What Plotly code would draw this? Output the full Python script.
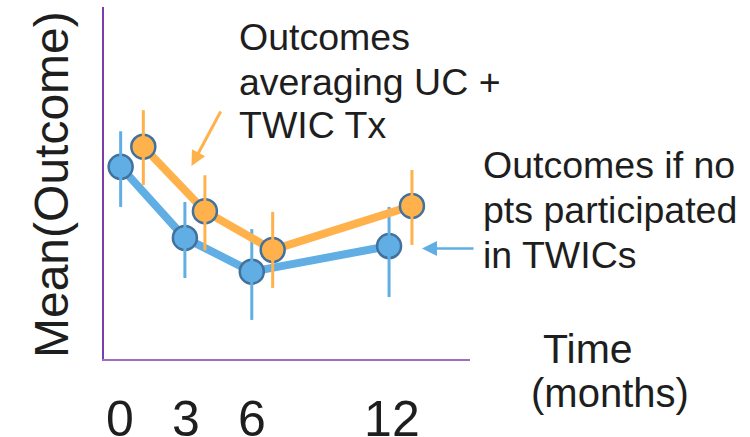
import plotly.graph_objects as go

# ---- data ----
tick_positions = [0, 3, 6, 12.36]
tick_labels = ["0", "3", "6", "12"]

# Usual care only ("Outcomes if no pts participated in TWICs")
uc_x = [0.03, 2.95, 5.99, 12.23]
uc_mean = [5.46, 3.44, 2.48, 3.21]
uc_err_plus = [1.01, 1.02, 1.21, 1.11]
uc_err_minus = [1.14, 1.14, 1.37, 1.45]

# Averaging UC + TWIC Tx
twic_x = [1.06, 3.86, 6.94, 13.27]
twic_mean = [6.03, 4.20, 3.10, 4.35]
twic_err_plus = [1.04, 1.02, 1.08, 1.02]
twic_err_minus = [1.09, 1.11, 1.08, 1.11]

# ---- styling ----
BLUE = "#60AEE4"
ORANGE = "#FFB24C"
EDGE = "#41719C"
FONT = "Liberation Sans, Arial, sans-serif"
TXT = "#1e1e1e"

L, R, T, B = 104, 280, 7, 78
W, H = 750, 437
PW, PH = W - L - R, H - T - B


def px(xp):
    return (xp - L) / PW


def py(yp):
    return (H - B - yp) / PH


fig = go.Figure()


def add_series(x, y, ep, em, color):
    fig.add_trace(go.Scatter(
        x=x, y=y, mode="lines+markers",
        line=dict(color=color, width=8),
        marker=dict(size=24, color=color, line=dict(color=EDGE, width=2.5)),
        showlegend=False, hoverinfo="skip", cliponaxis=False))
    fig.add_trace(go.Scatter(
        x=x, y=y, mode="markers",
        marker=dict(size=1, color="rgba(0,0,0,0)"),
        error_y=dict(type="data", symmetric=False, array=ep, arrayminus=em,
                     color=color, thickness=3, width=0),
        showlegend=False, hoverinfo="skip", cliponaxis=False))


add_series(uc_x, uc_mean, uc_err_plus, uc_err_minus, BLUE)
add_series(twic_x, twic_mean, twic_err_plus, twic_err_minus, ORANGE)

annotations = []


def text(s, xp, yp, size, anchor="left", angle=0):
    annotations.append(dict(
        text=s, x=px(xp), y=py(yp), xref="paper", yref="paper",
        xanchor=anchor, yanchor="middle", showarrow=False, textangle=angle,
        font=dict(family=FONT, size=size, color=TXT)))


# block 1
text("Outcomes", 237, 37, 37.5)
text("averaging UC +", 237, 82, 37.5)
text("TWIC Tx", 237, 125, 37.5)
# block 2
text("Outcomes if no", 481, 165, 37.5)
text("pts participated", 481, 210, 37.5)
text("in TWICs", 481, 255, 37.5)
# x title
text("Time", 588, 349, 41, anchor="center")
text("(months)", 610, 393, 40, anchor="center")
# y title
text("Mean(Outcome)", 52, 185, 48, anchor="center", angle=-90)

# arrows
annotations.append(dict(
    text="", x=px(191.5), y=py(166), xref="paper", yref="paper",
    ax=30, ay=-56, showarrow=True, arrowhead=2, arrowsize=1,
    arrowwidth=3, arrowcolor=ORANGE, standoff=0))
annotations.append(dict(
    text="", x=px(422), y=py(248.5), xref="paper", yref="paper",
    ax=53, ay=0, showarrow=True, arrowhead=2, arrowsize=1.2,
    arrowwidth=2.5, arrowcolor=BLUE, standoff=0))

fig.update_layout(
    width=W, height=H,
    margin=dict(l=L, r=R, t=T, b=B, pad=0, autoexpand=False),
    paper_bgcolor="white", plot_bgcolor="white",
    annotations=annotations,
    xaxis=dict(range=[-0.727, 15.909], showgrid=False, zeroline=False,
               automargin=False,
               showline=True, linecolor="#A36CC0", linewidth=2,
               tickmode="array", tickvals=tick_positions, ticktext=tick_labels,
               ticks="", ticklabelstandoff=15,
               tickfont=dict(family=FONT, size=50, color=TXT)),
    yaxis=dict(range=[0, 10], showgrid=False, zeroline=False,
               automargin=False,
               showline=True, linecolor="#7D3DAA", linewidth=2,
               showticklabels=False, ticks=""),
)

fig.write_html("out.html")
